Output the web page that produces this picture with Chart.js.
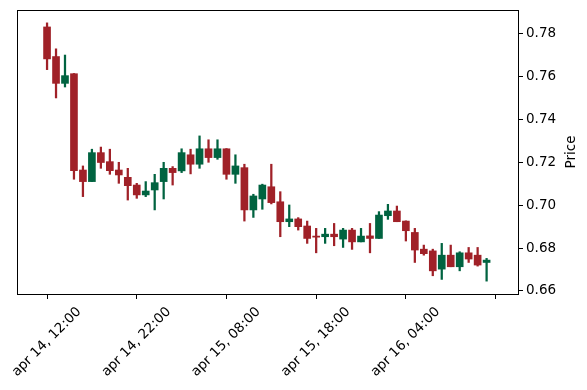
<!DOCTYPE html>
<html>
<head>
<meta charset="utf-8">
<script src="https://cdn.jsdelivr.net/npm/chart.js@4.4.1/dist/chart.umd.min.js"></script>
<style>
  html, body { margin: 0; padding: 0; background: #fff; }
  #wrap { width: 587px; height: 390px; position: relative; }
</style>
</head>
<body>
<div id="wrap"><canvas id="c" width="587" height="390"></canvas></div>
<script>
// Hourly candles, apr 14 12:00 -> apr 16 13:00 (index 0..49)
const openP = [0.7831,0.7693,0.7568,0.7613,0.7164,0.7110,0.7245,0.7203,0.7164,0.7130,
               0.7094,0.7048,0.7071,0.7110,0.7172,0.7160,0.7235,0.7191,0.7263,0.7222,
               0.7263,0.7144,0.7175,0.6978,0.7029,0.7086,0.7016,0.6923,0.6936,0.6903,
               0.6856,0.6853,0.6865,0.6842,0.6884,0.6829,0.6857,0.6845,0.6951,0.6973,
               0.6926,0.6873,0.6795,0.6787,0.6702,0.6767,0.6713,0.6778,0.6767,0.6733];
const highP = [0.7850,0.7729,0.7700,0.7614,0.7183,0.7261,0.7271,0.7261,0.7200,0.7172,
               0.7102,0.7110,0.7144,0.7200,0.7180,0.7263,0.7261,0.7323,0.7305,0.7305,
               0.7264,0.7235,0.7191,0.7051,0.7098,0.7191,0.7063,0.7001,0.6942,0.6926,
               0.6892,0.6892,0.6915,0.6892,0.6892,0.6892,0.6915,0.6970,0.7004,0.6996,
               0.6927,0.6892,0.6814,0.6795,0.6822,0.6814,0.6783,0.6803,0.6803,0.6752];
const lowP  = [0.7632,0.7500,0.7551,0.7121,0.7040,0.7110,0.7172,0.7144,0.7102,0.7024,
               0.7032,0.7040,0.6978,0.7029,0.7094,0.7152,0.7146,0.7172,0.7200,0.7214,
               0.7121,0.7102,0.6926,0.6943,0.6981,0.7006,0.6853,0.6900,0.6884,0.6822,
               0.6778,0.6822,0.6811,0.6803,0.6794,0.6829,0.6778,0.6845,0.6934,0.6923,
               0.6833,0.6733,0.6767,0.6671,0.6654,0.6713,0.6694,0.6733,0.6716,0.6646];
const closeP = [0.7682,0.7568,0.7604,0.7161,0.7110,0.7245,0.7199,0.7161,0.7141,0.7091,
                0.7048,0.7066,0.7105,0.7172,0.7152,0.7245,0.7191,0.7263,0.7222,0.7263,
                0.7144,0.7183,0.6978,0.7043,0.7094,0.7012,0.6923,0.6936,0.6900,0.6845,
                0.6851,0.6865,0.6853,0.6884,0.6829,0.6856,0.6845,0.6954,0.6973,0.6923,
                0.6881,0.6791,0.6774,0.6694,0.6767,0.6713,0.6778,0.6749,0.6721,0.6744];

const xTickIndex  = [0, 10, 20, 30, 40, 50];
const xTickLabels = ["apr 14, 12:00", "apr 14, 22:00", "apr 15, 08:00", "apr 15, 18:00", "apr 16, 04:00", ""];
const yTickValues = [0.66, 0.68, 0.70, 0.72, 0.74, 0.76, 0.78];
const yAxisTitle = "Price";

const UP = '#006340', DOWN = '#A02128';
const FONT = { family: "'DejaVu Sans', sans-serif", size: 13.5 };

const colors = openP.map((o, i) => closeP[i] >= o ? UP : DOWN);
const wickData = openP.map((o, i) => ({ x: i, y: [lowP[i], highP[i]] }));
const bodyData = openP.map((o, i) => ({ x: i, y: [Math.min(o, closeP[i]), Math.max(o, closeP[i])] }));

const XMIN = -3.35, XMAX = 52.5, YMIN = 0.6586, YMAX = 0.7910;

const titlePlugin = {
  id: 'rightTitle',
  afterDraw(chart) {
    const { ctx, chartArea } = chart;
    ctx.save();
    ctx.font = "13.5px 'DejaVu Sans', sans-serif";
    ctx.fillStyle = '#000';
    ctx.textAlign = 'center';
    ctx.textBaseline = 'middle';
    ctx.translate(571, (chartArea.top + chartArea.bottom) / 2);
    ctx.rotate(-Math.PI / 2);
    ctx.fillText(yAxisTitle, 0, 0);
    ctx.restore();
  }
};

const noPad = s => { s.paddingLeft = 0; s.paddingRight = 0; s.paddingTop = 0; s.paddingBottom = 0; };

new Chart(document.getElementById('c'), {
  type: 'bar',
  data: {
    datasets: [
      { data: wickData, backgroundColor: colors, borderWidth: 0, barThickness: 1.6,
        grouped: false, xAxisID: 'x', yAxisID: 'y', order: 2 },
      { data: bodyData, backgroundColor: colors, borderWidth: 0, barThickness: 7,
        minBarLength: 1, grouped: false, xAxisID: 'x', yAxisID: 'y', order: 1 }
    ]
  },
  options: {
    responsive: false,
    animation: false,
    layout: { padding: { left: 17, top: 10, right: 0, bottom: 0 } },
    plugins: { legend: { display: false }, tooltip: { enabled: false } },
    scales: {
      x: {
        type: 'linear', position: 'bottom', min: XMIN, max: XMAX, offset: false,
        afterBuildTicks: s => { s.ticks = xTickIndex.map(v => ({ value: v })); },
        afterFit: s => { s.height = 96; noPad(s); },
        grid: { drawOnChartArea: false, drawTicks: true, tickLength: 5, color: '#000', offset: false },
        border: { display: true, color: '#000', width: 1 },
        ticks: {
          autoSkip: false, minRotation: 45, maxRotation: 45, padding: 5, labelOffset: 32,
          color: '#000', font: FONT,
          callback: (v) => { const k = xTickIndex.indexOf(v); return k >= 0 ? xTickLabels[k] : ''; }
        }
      },
      x2: {
        type: 'linear', position: 'top', min: XMIN, max: XMAX, offset: false,
        afterFit: s => { s.height = 0; noPad(s); },
        grid: { drawOnChartArea: false, drawTicks: false },
        border: { display: true, color: '#000', width: 1 },
        ticks: { display: false }
      },
      y: {
        type: 'linear', position: 'right', min: YMIN, max: YMAX,
        afterBuildTicks: s => { s.ticks = yTickValues.map(v => ({ value: v })); },
        afterFit: s => { s.width = 69; noPad(s); },
        grid: { drawOnChartArea: false, drawTicks: true, tickLength: 5, color: '#000' },
        border: { display: true, color: '#000', width: 1 },
        ticks: { padding: 3, color: '#000', font: FONT, callback: v => v.toFixed(2) }
      },
      y2: {
        type: 'linear', position: 'left', min: YMIN, max: YMAX,
        afterFit: s => { s.width = 0; noPad(s); },
        grid: { drawOnChartArea: false, drawTicks: false },
        border: { display: true, color: '#000', width: 1 },
        ticks: { display: false }
      }
    }
  },
  plugins: [titlePlugin]
});
</script>
</body>
</html>
